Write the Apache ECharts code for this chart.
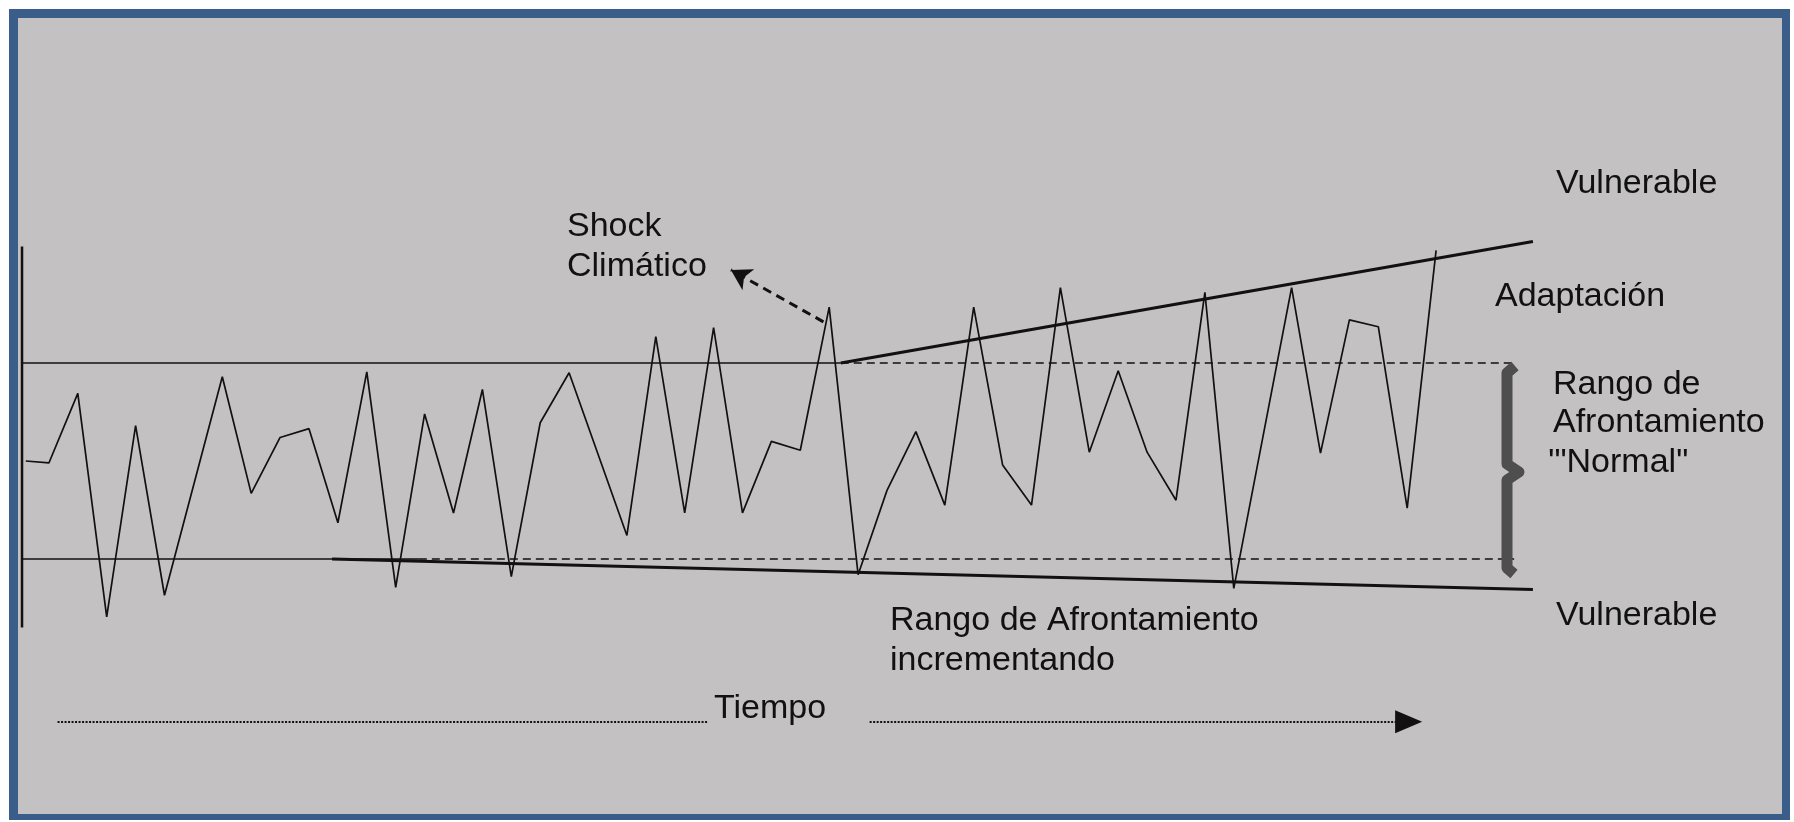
<!DOCTYPE html>
<html>
<head>
<meta charset="utf-8">
<title>Rango de afrontamiento y adaptación</title>
<script src="https://cdn.jsdelivr.net/npm/echarts@6/dist/echarts.min.js"></script>
<style>
  html, body { margin: 0; padding: 0; background: #fff; }
  #chart { width: 1794px; height: 822px; }
</style>
</head>
<body>
<div id="chart"></div>
<script>
// eje x: pasos de tiempo; eje y: nivel de la variable climática (0 = centro del rango normal)
const serieClima = [
  [0.2, 0], [1, -0.2], [2, 6.9], [3, -15.9], [4, 3.6], [5, -13.7],
  [7, 8.6], [8, -3.3], [9, 2.4], [10, 3.3], [11, -6.3], [12, 9.1],
  [13, -12.9], [14, 4.8], [15, -5.3], [16, 7.3], [17, -11.8], [18, 3.9],
  [19, 9.0], [21, -7.6], [22, 12.7], [23, -5.3], [24, 13.6], [25, -5.3],
  [26, 2.0], [27, 1.1], [28, 15.7], [29, -11.6], [30, -3.0], [31, 3.0],
  [32, -4.5], [33, 15.7], [34, -0.4], [35, -4.5], [36, 17.7], [37, 0.9],
  [38, 9.2], [39, 0.9], [40, -4.0], [41, 17.2], [42, -13.0], [44, 17.7],
  [45, 0.8], [46, 14.4], [47, 13.7], [48, -4.8], [49, 21.5]
];

const limiteSupSolido = [[0.07, 10], [28.4, 10]];
const limiteSupPunteado = [[28.4, 10], [51.7, 10]];
const limiteInfSolido = [[0.07, -10], [13.8, -10]];
const limiteInfPunteado = [[13.8, -10], [51.7, -10]];
const tendenciaSup = [[28.4, 10], [52.35, 22.4]];
const tendenciaInf = [[10.8, -10], [52.35, -13.1]];
const ejeVertical = [[0.07, 21.9], [0.07, -17.0]];

const flechaShock = [[27.8, 14.2], [24.6, 19.5]];
const tiempoIzq = [[1.3, -26.6], [23.8, -26.6]];
const tiempoDer = [[29.4, -26.6], [48.05, -26.6]];

const chart = echarts.init(document.getElementById("chart"));

const fuente = "34px 'Liberation Sans', Arial, sans-serif";

function texto(str, x, y) {
  return {
    type: "text",
    z: 10,
    style: {
      text: str,
      x: x,
      y: y,
      font: fuente,
      fill: "#111",
      textAlign: "left",
      textVerticalAlign: "middle"
    }
  };
}

function linea(data, width, type) {
  return {
    type: "line",
    data: data,
    showSymbol: false,
    silent: true,
    lineStyle: { color: "#111", width: width, type: type || "solid" },
    z: 3
  };
}

const option = {
  backgroundColor: "#fff",
  animation: false,
  grid: { left: 20, right: 40, top: 118, bottom: 18 },
  xAxis: {
    type: "value", min: 0, max: 60,
    show: false
  },
  yAxis: {
    type: "value", min: -35, max: 35,
    show: false
  },
  graphic: [
    { type: "rect", z: -2, shape: { x: 9, y: 9, width: 1781, height: 811 }, style: { fill: "#3a5d8a" } },
    { type: "rect", z: -1, shape: { x: 18, y: 18, width: 1764, height: 796 }, style: { fill: "#c3c1c2" } },
    {
      type: "polyline", z: 5,
      shape: { points: [[1515, 366], [1507, 373], [1507, 464], [1519, 472], [1507, 480], [1507, 568], [1514, 574]] },
      style: { stroke: "#4e4e4e", lineWidth: 11, fill: null, lineJoin: "round" }
    },
    texto("Shock", 567, 227),
    texto("Climático", 567, 267),
    texto("Vulnerable", 1556, 184),
    texto("Adaptación", 1495, 297),
    texto("Rango de", 1553, 385),
    texto("Afrontamiento", 1553, 423),
    texto("'\"Normal\"", 1548, 463),
    texto("Rango de Afrontamiento", 890, 621),
    texto("incrementando", 890, 661),
    texto("Vulnerable", 1556, 616),
    texto("Tiempo", 714, 709)
  ],
  series: [
    linea(ejeVertical, 2.5),
    linea(limiteSupSolido, 1.5),
    linea(limiteSupPunteado, 1.5, [8, 5]),
    linea(limiteInfSolido, 1.5),
    linea(limiteInfPunteado, 1.5, [8, 5]),
    linea(tendenciaSup, 3),
    linea(tendenciaInf, 3),
    {
      type: "line",
      data: serieClima,
      showSymbol: false,
      silent: true,
      lineStyle: { color: "#111", width: 1.7 },
      z: 4,
      markLine: {
        silent: true,
        animation: false,
        label: { show: false },
        data: [
          [
            { coord: flechaShock[0], symbol: "none", lineStyle: { color: "#111", width: 3, type: [9, 6] } },
            { coord: flechaShock[1], symbol: "arrow", symbolSize: [18, 20] }
          ],
          [
            { coord: tiempoIzq[0], symbol: "none", lineStyle: { color: "#111", width: 2, type: [2, 1.5] } },
            { coord: tiempoIzq[1], symbol: "none" }
          ],
          [
            { coord: tiempoDer[0], symbol: "none", lineStyle: { color: "#111", width: 2, type: [2, 1.5] } },
            { coord: tiempoDer[1], symbol: "triangle", symbolSize: [23, 27] }
          ]
        ]
      }
    }
  ]
};

chart.setOption(option);
</script>
</body>
</html>
